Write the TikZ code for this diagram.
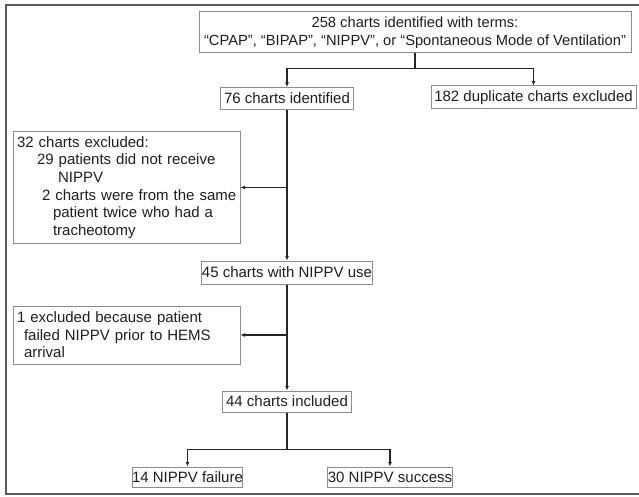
\documentclass[tikz,border=0pt]{standalone}
\usepackage{fontspec}
\setmainfont{Liberation Sans}
\usetikzlibrary{arrows.meta}
\definecolor{boxgray}{HTML}{8C8C8C}
\definecolor{linec}{HTML}{262626}
\definecolor{txt}{HTML}{1E1E1E}
\definecolor{framec}{HTML}{5A5A5A}
\newcommand\myfs{\fontsize{15pt}{17.6pt}\selectfont}
\begin{document}
\begin{tikzpicture}[x=1pt,y=-1pt,
  box/.style={draw=boxgray,line width=1pt,inner sep=0pt,minimum height=22pt,font=\myfs,text=txt},
  arr/.style={draw=linec,line width=1.4pt,-{Latex[length=4.5pt,width=4pt]}},
  ln/.style={draw=linec,line width=1.4pt}]
\useasboundingbox (0,0) rectangle (639,497);
\draw[framec,line width=2pt] (639,5) -- (6,5) -- (6,494) -- (639,494);

\node[box,minimum width=432pt,minimum height=41pt,align=center,font=\fontsize{14.7pt}{18pt}\selectfont] (top) at (415,32.5)
  {258 charts identified with terms:\\ “CPAP”, “BIPAP”, “NIPPV”, or “Spontaneous Mode of Ventilation”};
\node[box,minimum width=133pt] (n76) at (287,98.5) {76 charts identified};
\node[box,minimum width=205pt,minimum height=23pt] (n182) at (533.5,97.5) {182 duplicate charts excluded};
\node[box,text width=219pt,inner xsep=4pt,minimum height=111pt,align=left] (n32) at (126.5,187.5)
  {\mbox{32 charts excluded:}\\
   \mbox{\hspace*{20pt}29 patients did not receive}\\
   \mbox{\hspace*{41pt}NIPPV}\\
   \mbox{\hspace*{25pt}2 charts were from the same}\\
   \mbox{\hspace*{36pt}patient twice who had a}\\
   \mbox{\hspace*{36pt}tracheotomy}};
\node[box,minimum width=171pt,minimum height=23pt] (n45) at (287,272.5) {45 charts with NIPPV use};
\node[box,text width=219pt,inner xsep=4pt,minimum height=58pt,align=left] (n1) at (126.5,335)
  {\mbox{1 excluded because patient}\\
   \mbox{\hspace*{7pt}failed NIPPV prior to HEMS}\\
   \mbox{\hspace*{7pt}arrival}};
\node[box,minimum width=129pt,minimum height=21pt] (n44) at (287,401.5) {44 charts included};
\node[box,minimum width=109pt,minimum height=20pt] (n14) at (187.5,477) {14 NIPPV failure};
\node[box,minimum width=125pt,minimum height=20pt] (n30) at (390,477) {30 NIPPV success};

\draw[ln] (top.south) -- ++(0,15) coordinate (b1);
\draw[arr] (b1) -| (n76.north);
\draw[arr] (b1) -| (n182.north);
\draw[arr] (n76.south) -- (n45.north);
\draw[arr] (n76.south |- n32.east) -- (n32.east);
\draw[arr] (n45.south) -- (n44.north);
\draw[arr] (n45.south |- n1.east) -- (n1.east);
\draw[ln] (n44.south) -- ++(0,37) coordinate (b2);
\draw[arr] (b2) -| (n14.north);
\draw[arr] (b2) -| (n30.north);
\end{tikzpicture}
\end{document}
